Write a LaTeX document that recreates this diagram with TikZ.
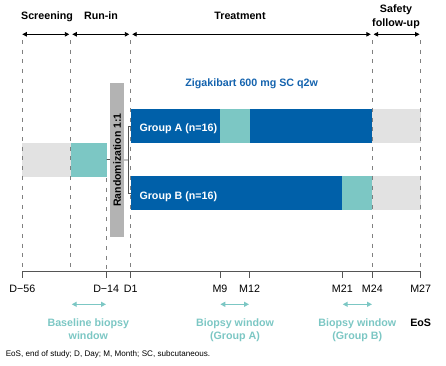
\documentclass[tikz,border=0pt]{standalone}
\usepackage{fontspec}
\setmainfont{Liberation Sans}
\usetikzlibrary{arrows.meta}
\definecolor{dblue}{HTML}{0060A9}
\definecolor{tblue}{HTML}{1463AE}
\definecolor{teal2}{HTML}{7CC7C4}
\definecolor{lgray}{HTML}{E2E2E2}
\definecolor{rgray}{HTML}{B3B3B3}
\definecolor{dgray}{HTML}{808080}
\definecolor{agray}{HTML}{555555}
\begin{document}
\begin{tikzpicture}[x=1pt,y=-1pt,
  lbl/.style={font=\fontsize{10.7}{13.3}\selectfont\bfseries, inner sep=0pt, anchor=base},
  ticklbl/.style={font=\fontsize{10.7}{13.3}\selectfont, inner sep=0pt, anchor=base},
  bar/.style={draw=none, inner sep=0pt, outer sep=0pt, anchor=north west, minimum height=34pt},
  vdash/.style={draw=dgray, line width=0.9pt, dash pattern=on 4pt off 5.7pt},
  phase/.style={line width=0.9pt, black, {Triangle[length=4.5pt,width=4.5pt]}-{Triangle[length=4.5pt,width=4.5pt]}},
  bx/.style={line width=1.4pt, teal2, {Triangle[length=5pt,width=5pt]}-{Triangle[length=5pt,width=5pt]}},
  link/.style={draw=agray, line width=0.7pt},
  tealtxt/.style={lbl, text=teal2, align=center}
]
\useasboundingbox (0,0) rectangle (446,365);

% phase labels
\node[lbl] (scr) at (47,19.3) {Screening};
\node[lbl] (run) at (101,19.3) {Run-in};
\node[lbl] (trt) at (240,19.3) {Treatment};
\node[lbl, align=center] (saf) at (396,26) {Safety\\follow-up};

% phase arrows
\draw[phase] (22.3,34.3) -- (69.3,34.3);
\draw[phase] (72.3,34.3) -- (129.3,34.3);
\draw[phase] (132.2,34.3) -- (370.8,34.3);
\draw[phase] (373.6,34.3) -- (419.6,34.3);

% bars
\node[bar, fill=lgray, minimum width=48.4pt] (scb) at (22.3,142.5) {};
\node[bar, fill=teal2, minimum width=36pt] (bl) at (70.7,142.5) {};

\node[bar, fill=dblue, minimum width=89.3pt] (ga) at (130.7,109.3) {};
\node[bar, fill=teal2, minimum width=29.6pt] (gaw) at (220,109.3) {};
\node[bar, fill=dblue, minimum width=122.7pt] (ga2) at (249.6,109.3) {};
\node[bar, fill=lgray, minimum width=48.4pt] (gaf) at (372.3,109.3) {};

\node[bar, fill=dblue, minimum width=211.6pt] (gb) at (130.7,176) {};
\node[bar, fill=teal2, minimum width=30pt] (gbw) at (342.3,176) {};
\node[bar, fill=lgray, minimum width=48.4pt] (gbf) at (372.3,176) {};

\node[lbl, anchor=base west, text=white] (gal) at (139.3,131.7) {Group A (n=16)};
\node[lbl, anchor=base west, text=white] (gbl) at (139.3,199) {Group B (n=16)};

\node[lbl, text=tblue] (drug) at (251.7,86) {Zigakibart 600 mg SC q2w};

% randomization connector
\coordinate (br) at (128.4,160);
\draw[link] (bl.east) -- (br);
\draw[link] (ga.west) -| (br) |- (gb.west);

% randomization bar
\node[rotate=90, fill=rgray, minimum width=153.4pt, minimum height=14.3pt, inner sep=0pt,
      font=\fontsize{10.5}{12}\selectfont\bfseries] (rand) at (117.2,160) {Randomization 1:1};

% dashed verticals
\draw[vdash] (22.3,40) -- (22.3,271.7);
\draw[vdash] (70.7,40) -- (70.7,271.7);
\draw[vdash] (130.7,40) -- (130.7,271.7);
\draw[vdash] (372.3,40) -- (372.3,271.7);
\draw[vdash] (420.7,40) -- (420.7,271.7);
\draw[vdash] (106.7,178) -- (106.7,271.7);

% axis
\draw[draw=agray, line width=0.9pt] (22.3,271.7) -- (420.7,271.7);
\foreach \x in {22.3,106.7,130.7,220,249.3,342.3,372.3,420.7}
  \draw[draw=agray, line width=0.9pt] (\x,271.7) -- (\x,277.5);

\node[ticklbl] (t1) at (22.3,292.7) {D−56};
\node[ticklbl] (t2) at (106.2,292.7) {D−14};
\node[ticklbl] (t3) at (130.7,292.7) {D1};
\node[ticklbl] (t4) at (220,292.7) {M9};
\node[ticklbl] (t5) at (249.6,292.7) {M12};
\node[ticklbl] (t6) at (342.3,292.7) {M21};
\node[ticklbl] (t7) at (372.3,292.7) {M24};
\node[ticklbl] (t8) at (420.7,292.7) {M27};

% biopsy windows
\draw[bx] (71.7,304.3) -- (106,304.3);
\draw[bx] (220.3,304.3) -- (249,304.3);
\draw[bx] (342.7,304.3) -- (372,304.3);

\node[tealtxt] (w1) at (88.3,339.3) {Baseline biopsy\\window};
\node[tealtxt] (w2) at (235,339.3) {Biopsy window\\(Group A)};
\node[tealtxt] (w3) at (357.3,339.3) {Biopsy window\\(Group B)};
\node[lbl] (eos) at (420.7,326) {EoS};

\node[font=\fontsize{8.1}{10}\selectfont, inner sep=0pt, anchor=base west] (fn) at (5.6,356) {EoS, end of study; D, Day; M, Month; SC, subcutaneous.};
\end{tikzpicture}
\end{document}
